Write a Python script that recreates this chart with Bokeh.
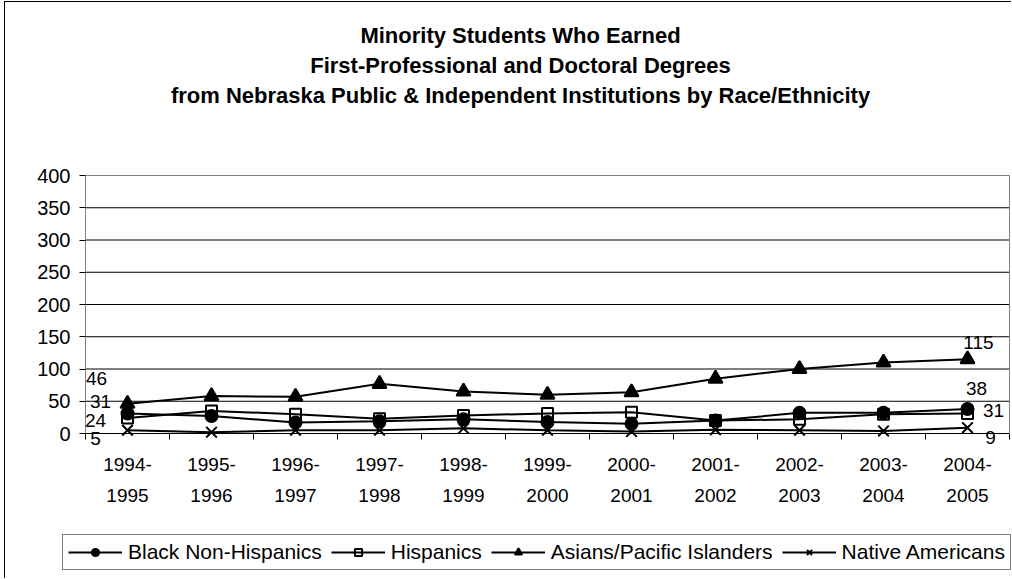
import numpy as np
from bokeh.plotting import figure
from bokeh.models import (Range1d, FixedTicker, Legend, LegendItem, LinearAxis)
from bokeh.core.properties import value
from bokeh.embed import file_html
from bokeh.resources import INLINE

# ---- data ----
years = ["1994-\n1995", "1995-\n1996", "1996-\n1997", "1997-\n1998", "1998-\n1999",
         "1999-\n2000", "2000-\n2001", "2001-\n2002", "2002-\n2003", "2003-\n2004",
         "2004-\n2005"]
black = [31, 27, 17, 19, 22, 18, 15, 20, 32, 32, 38]
hispanic = [24, 35, 30, 23, 28, 31, 33, 20, 22, 30, 31]
asian = [46, 58, 57, 77, 65, 60, 64, 85, 100, 110, 115]
native = [5, 2, 5, 5, 8, 5, 3, 6, 5, 4, 9]
series_names = ["Black Non-Hispanics", "Hispanics", "Asians/Pacific Islanders", "Native Americans"]
y_ticks = [0, 50, 100, 150, 200, 250, 300, 350, 400]
title_lines = ["Minority Students Who Earned",
               "First-Professional and Doctoral Degrees",
               "from Nebraska Public & Independent Institutions by Race/Ethnicity"]

FONT = "Liberation Sans"
n = len(years)
xs = list(np.arange(n) + 0.5)
edges = list(np.arange(n + 1))
y_max = y_ticks[-1]

# ---- layout (pixels): canvas and plot-area geometry ----
W, H = 1007, 577               # canvas, placed at (5, 2) inside the chart border
PL, PW, PT, PH = 80, 924, 173, 258
sx, sy = PW / n, PH / y_max
x_range = Range1d(-PL / sx, n + (W - PL - PW) / sx)
y_range = Range1d(-(H - PT - PH) / sy, y_max + PT / sy)

p = figure(width=W, height=H, output_backend="svg", toolbar_location=None,
           x_range=x_range, y_range=y_range, x_axis_type=None, y_axis_type=None,
           min_border=0, background_fill_color="white", border_fill_color="white")
p.margin = (1, 0, 0, 4)
p.styles = {"border-left": "1px solid black", "border-top": "1px solid black"}
p.outline_line_color = None

# horizontal gridlines
grid_y = y_ticks[1:-1]
p.segment(x0=[0] * len(grid_y), x1=[n] * len(grid_y), y0=grid_y, y1=grid_y,
          line_color="black", line_width=1)

# category axis: labels at centres, tick marks at boundaries
xa = LinearAxis(fixed_location=0, bounds=(0, n),
                ticker=FixedTicker(ticks=xs, minor_ticks=edges))
xa.major_label_overrides = {float(x): lab for x, lab in zip(xs, years)}
xa.major_tick_line_color = None
xa.minor_tick_in = 0
xa.minor_tick_out = 6
xa.minor_tick_line_color = "black"
xa.axis_line_color = "black"
xa.major_label_text_font = FONT
xa.major_label_text_font_size = "19px"
xa.major_label_text_color = "black"
xa.major_label_text_line_height = 1.5
xa.major_label_standoff = 14
p.add_layout(xa, "below")

ya = LinearAxis(fixed_location=0, bounds=(0, y_max),
                ticker=FixedTicker(ticks=y_ticks, minor_ticks=[]))
ya.major_tick_in = 0
ya.major_tick_out = 6
ya.major_tick_line_color = "black"
ya.axis_line_color = "#808080"
ya.major_label_text_font = FONT
ya.major_label_text_font_size = "20px"
ya.major_label_text_color = "black"
ya.major_label_standoff = 9
p.add_layout(ya, "left")

# plot-area border (right and top)
for loc, side, bnd in ((n, "right", (0, y_max)), (y_max, "above", (0, n))):
    b = LinearAxis(fixed_location=loc, bounds=bnd, ticker=FixedTicker(ticks=[], minor_ticks=[]))
    b.axis_line_color = "#808080"
    b.major_tick_line_color = None
    b.minor_tick_line_color = None
    b.major_label_text_alpha = 0
    p.add_layout(b, side)

styles = [
    dict(marker="circle", size=12, fill_color="black", fill_alpha=1.0),
    dict(marker="square", size=11, fill_color="white", fill_alpha=0.0),
    dict(marker="triangle", size=14, fill_color="black", fill_alpha=1.0),
    dict(marker="x", size=15, fill_color="black", fill_alpha=1.0),
]
data = [black, hispanic, asian, native]
items = []
for name, vals, st in zip(series_names, data, styles):
    lr = p.line(xs, vals, line_color="black", line_width=2)
    mr = p.scatter(xs, vals, marker=st["marker"], size=st["size"],
                   fill_color=st["fill_color"], fill_alpha=st["fill_alpha"],
                   line_color="black", line_width=2)
    items.append(LegendItem(label=name, renderers=[lr, mr]))

# data labels at first and last points
first_off = [(-27, -12), (-32, 2), (-31, -25), (-32, 8)]
last_off = [(9, -20), (26, -3), (11, -17), (23, 10)]
for vals, fo, lo in zip(data, first_off, last_off):
    for idx, off in ((0, fo), (-1, lo)):
        p.text(x=[xs[idx]], y=[vals[idx]], text=[str(vals[idx])], x_offset=off[0], y_offset=off[1],
               text_align="center", text_baseline="middle", text_font=value(FONT),
               text_font_size="19px", text_color="black", level="overlay")

# title, centred on the chart area
for i, t in enumerate(title_lines):
    p.text(x=[n / 2], y=[y_max], text=[t], x_offset=-27, y_offset=-140 + 30 * i,
           text_align="center", text_baseline="middle", text_font=value(FONT),
           text_font_size="22px", text_font_style="bold", text_color="black", level="overlay")

legend = Legend(items=items, orientation="horizontal", location=(57, 9),
                label_text_font=FONT, label_text_font_size="21px", label_text_color="black",
                glyph_width=54, glyph_height=18, label_standoff=6, spacing=9, padding=5,
                margin=0, border_line_color="black", border_line_width=1,
                background_fill_color="white", background_fill_alpha=1.0, level="overlay")
p.add_layout(legend, "center")

open("out.html", "w").write(file_html(p, INLINE))
